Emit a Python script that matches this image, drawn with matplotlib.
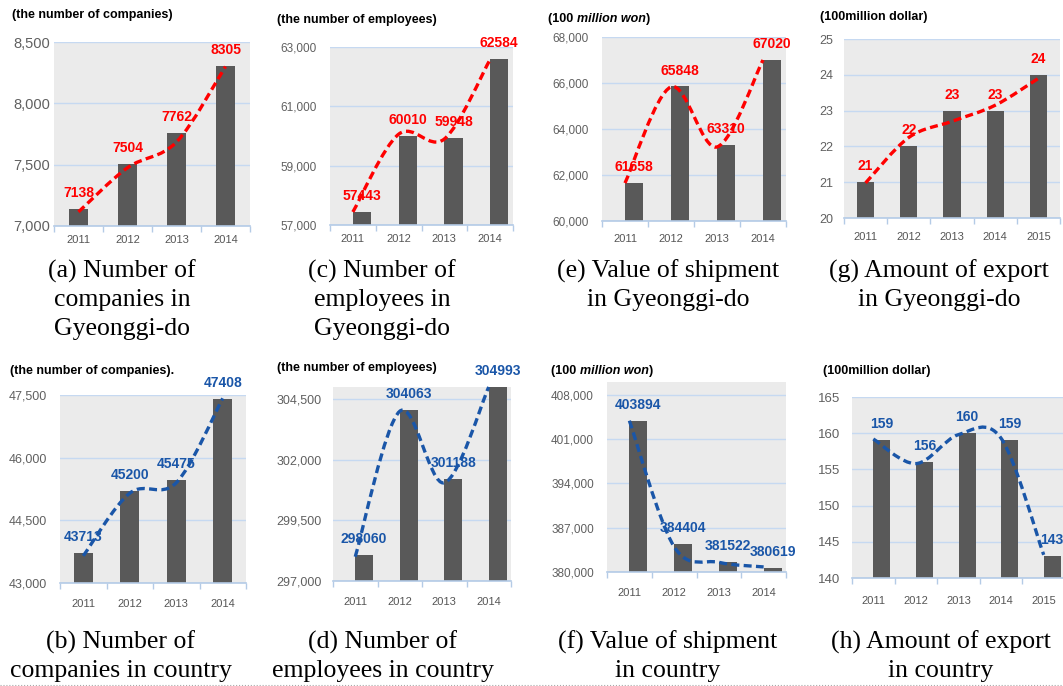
import numpy as np
import matplotlib
matplotlib.use('Agg')
import matplotlib.pyplot as plt
from matplotlib.path import Path
from matplotlib.patches import PathPatch
from matplotlib.lines import Line2D
from matplotlib.text import Annotation
from matplotlib import font_manager as fm

# fonts
names = {f.name for f in fm.fontManager.ttflist}
HAS_NARROW = 'Liberation Sans Narrow' in names
NARROW = 'Liberation Sans Narrow' if HAS_NARROW else 'Liberation Sans'
plt.rcParams['font.family'] = ['Liberation Sans', 'DejaVu Sans']

# ---- data ----
years4 = ['2011', '2012', '2013', '2014']
years5 = ['2011', '2012', '2013', '2014', '2015']

# Gyeonggi-do
gg_companies = [7138, 7504, 7762, 8305]
gg_employees = [57443, 60010, 59948, 62584]
gg_shipment = [61658, 65848, 63310, 67020]
gg_export = [21, 22, 23, 23, 24]
# whole country
kr_companies = [43713, 45200, 45475, 47408]
kr_employees = [298060, 304063, 301188, 304993]
kr_shipment = [403894, 384404, 381522, 380619]
kr_export = [159, 156, 160, 159, 143]

# dashed trend curves (they don't sit exactly on the bars)
gg_companies_line = [7115, 7475, 7685, 8300]
gg_employees_line = [57440, 60060, 59900, 62580]
gg_shipment_line = [61650, 65830, 63220, 67000]
gg_export_line = [20.98, 22.25, 22.7, 23.15, 23.9]
kr_companies_line = [43650, 45150, 45400, 47420]
kr_employees_line = [298000, 304000, 301050, 305000]
kr_shipment_line = [403890, 384000, 381530, 380800]
kr_export_line = [159.2, 155.8, 159.8, 159.3, 143.2]

RED = '#ff0000'
BLUE = '#1a56a8'
BAR = '#595959'
GRID = '#c6d9f1'
AXLINE = '#b4cbe6'

W, H = 1063, 686
fig = plt.figure(figsize=(W / 100, H / 100), dpi=100)


def smooth_path(xs, ys):
    # bezier through the points, like a spreadsheet "smoothed line"
    pts = np.column_stack([xs, ys]).astype(float)
    n = len(pts)
    verts = [pts[0]]
    codes = [Path.MOVETO]
    for i in range(n - 1):
        p0 = pts[i - 1] if i > 0 else pts[i]
        p1, p2 = pts[i], pts[i + 1]
        p3 = pts[i + 2] if i + 2 < n else pts[i + 1]
        verts += [p1 + (p2 - p0) / 6, p2 - (p3 - p1) / 6, p2]
        codes += [Path.CURVE4] * 3
    return Path(verts, codes)


# shift = how far the bars sit right of the category centre
panels = [
    dict(box=(54, 250, 42, 226), cats=years4, bars=gg_companies, line=gg_companies_line, shift=0.0,
         color=RED, ylim=(7000, 8500), step=500, ysize=10.5, ypad=4, xpad=9,
         title=['(the number of companies)'], tpos=(12, 15),
         caption=['(a) Number of', 'companies in', 'Gyeonggi-do'], cx=122),
    dict(box=(330, 513, 47, 225), cats=years4, bars=gg_employees, line=gg_employees_line, shift=0.2,
         color=RED, ylim=(57000, 63000), step=2000, ysize=8.5, ypad=13, xpad=9,
         title=['(the number of employees)'], tpos=(277, 20),
         caption=['(c) Number of', 'employees in', 'Gyeonggi-do'], cx=382),
    dict(box=(602, 786, 37, 221), cats=years4, bars=gg_shipment, line=gg_shipment_line, shift=0.2,
         color=RED, ylim=(60000, 68000), step=2000, ysize=8.5, ypad=13, xpad=13,
         title=['(100 ', 'million won', ')'], tpos=(548, 19),
         caption=['(e) Value of shipment', 'in Gyeonggi-do'], cx=668),
    dict(box=(844, 1060, 39, 218), cats=years5, bars=gg_export, line=gg_export_line, shift=0.0,
         color=RED, ylim=(20, 25), step=1, ysize=9, ypad=11, xpad=14,
         title=['(100million dollar)'], tpos=(820, 17),
         caption=['(g) Amount of export', 'in Gyeonggi-do'], cx=939),
    dict(box=(60, 246, 395, 583), cats=years4, bars=kr_companies, line=kr_companies_line, shift=0.0,
         color=BLUE, ylim=(43000, 47500), step=1500, ysize=9, ypad=13, xpad=16,
         title=['(the number of companies).'], tpos=(10, 371),
         caption=['(b) Number of', 'companies in country'], cx=121),
    dict(box=(333, 511, 387, 581), cats=years4, bars=kr_employees, line=kr_employees_line, shift=0.2,
         color=BLUE, ylim=(297000, 305000), step=2500, ysize=9, ypad=11, xpad=16,
         title=['(the number of employees)'], tpos=(277, 368),
         caption=['(d) Number of', 'employees in country'], cx=383),
    dict(box=(607, 786, 382, 572), cats=years4, bars=kr_shipment, line=kr_shipment_line, shift=0.2,
         color=BLUE, ylim=(380000, 410000), step=7000, ysize=8.5, ypad=13, xpad=16,
         title=['(100 ', 'million won', ')'], tpos=(551, 371),
         caption=['(f) Value of shipment', 'in country'], cx=668),
    dict(box=(852, 1065, 397, 578), cats=years5, bars=kr_export, line=kr_export_line, shift=0.2,
         color=BLUE, ylim=(140, 165), step=5, ysize=9.5, ypad=12, xpad=18,
         title=['(100million dollar)'], tpos=(823, 371),
         caption=['(h) Amount of export', 'in country'], cx=941),
]

for p in panels:
    x0, x1, yt, yb = p['box']
    ax = fig.add_axes([x0 / W, 1 - yb / H, (x1 - x0) / W, (yb - yt) / H])
    n = len(p['cats'])
    x = np.arange(n)
    xb = x + p['shift']
    ax.set_facecolor('#ebebeb')
    ax.bar(xb, p['bars'], width=0.4, color=BAR, zorder=2)
    ax.set_xlim(-0.5, n - 0.5)
    lo, hi = p['ylim']
    ax.set_ylim(lo, hi)

    yt_vals = np.arange(lo, hi + 1e-9, p['step'])
    ax.set_yticks(yt_vals)
    if hi > 1000:
        ax.set_yticklabels(['{:,}'.format(int(v)) for v in yt_vals])
    else:
        ax.set_yticklabels([str(int(v)) for v in yt_vals])
    ax.yaxis.grid(True, color=GRID, lw=1.0)
    ax.set_axisbelow(True)
    ax.tick_params(axis='y', length=0, pad=p['ypad'] * 0.72, labelsize=p['ysize'], labelcolor='#606060')

    ax.set_xticks(x)
    ax.set_xticklabels(p['cats'], fontfamily=NARROW)
    ax.set_xticks(np.arange(n + 1) - 0.5, minor=True)
    ax.tick_params(axis='x', which='major', length=0, pad=p['xpad'] * 0.72,
                   labelsize=9 if HAS_NARROW else 8, labelcolor='#555555')
    ax.tick_params(axis='x', which='minor', length=4, color=AXLINE, width=1)
    for s in ['left', 'right', 'top']:
        ax.spines[s].set_visible(False)
    ax.spines['bottom'].set_color(AXLINE)
    ax.spines['bottom'].set_linewidth(1.2)

    # dashed smoothed trend
    path = smooth_path(x, p['line'])
    ax.add_patch(PathPatch(path, fill=False, edgecolor=p['color'], lw=2.4,
                           ls=(0, (2.4, 1.3)), capstyle='butt', zorder=3, clip_on=False))

    # data labels over the bars
    for xi, v in zip(xb, p['bars']):
        ax.annotate(str(v), (xi, v), xytext=(0, 11.5), textcoords='offset points',
                    ha='center', va='center', color=p['color'], fontweight='bold',
                    fontfamily=NARROW, fontsize=11 if HAS_NARROW else 10, zorder=4)

    # unit title (italic part chained after the plain part)
    tx, ty = p['tpos']
    parts = p['title']
    prev = fig.text(tx / W, 1 - ty / H, parts[0], fontsize=9, fontweight='bold',
                    ha='left', va='center', color='black')
    for k, part in enumerate(parts[1:]):
        prev = fig.add_artist(Annotation(
            part, xy=(1, 0), xycoords=prev, xytext=(0, 0), textcoords='offset points',
            fontsize=9, fontweight='bold', fontstyle='italic' if k == 0 else 'normal',
            ha='left', va='bottom', color='black'))

    # caption under the panel
    row_y = [271, 300, 329] if yb < 300 else [642, 671]
    for line, cy in zip(p['caption'], row_y):
        fig.text(p['cx'] / W, 1 - cy / H, line, ha='center', va='center',
                 fontsize=18.5, family=['Liberation Serif', 'DejaVu Serif'], color='black')

fig.add_artist(Line2D([0, 1], [1 - 684.5 / H] * 2, transform=fig.transFigure,
                      color='#aaaaaa', lw=0.8, ls=':'))

fig.savefig('out.png', dpi=100)
